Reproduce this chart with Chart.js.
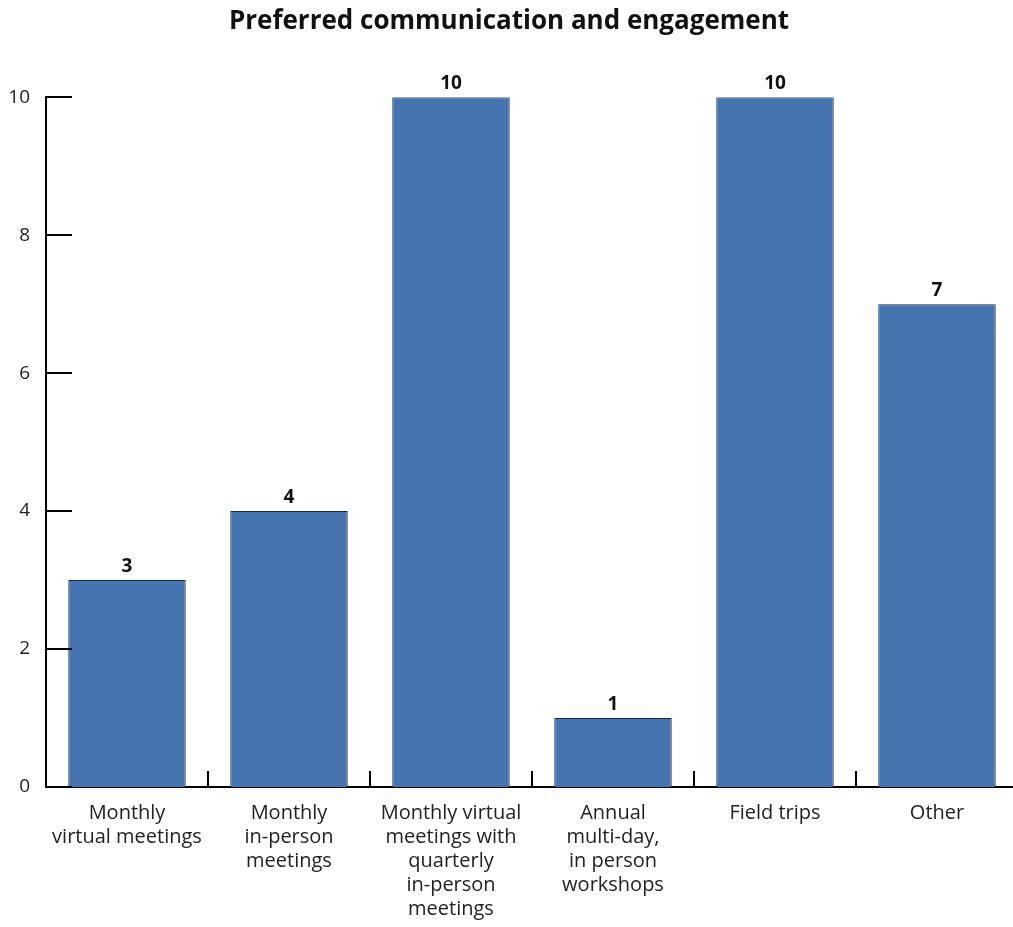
<!DOCTYPE html>
<html>
<head>
<meta charset="utf-8">
<script src="https://cdn.jsdelivr.net/npm/chart.js@4.4.1/dist/chart.umd.min.js"></script>
<style>
  html, body { margin: 0; padding: 0; background: #fff; overflow: hidden; }
  #chart { display: block; }
</style>
</head>
<body>
<canvas id="chart" width="1018" height="927"></canvas>
<script>
/* ===== data ===== */
const categories = [
  ["Monthly", "virtual meetings"],
  ["Monthly", "in-person", "meetings"],
  ["Monthly virtual", "meetings with", "quarterly", "in-person", "meetings"],
  ["Annual", "multi-day,", "in person", "workshops"],
  ["Field trips"],
  ["Other"]
];
const counts = [3, 4, 10, 1, 10, 7];
const yTicks = [0, 2, 4, 6, 8, 10];

const FONT = "'Open Sans', 'Noto Sans', sans-serif";

/* value labels above bars */
const valueLabels = {
  id: "valueLabels",
  afterDatasetsDraw(chart) {
    const ctx = chart.ctx;
    const meta = chart.getDatasetMeta(0);
    ctx.save();
    ctx.font = "bold 19px " + FONT;
    ctx.fillStyle = "#111";
    ctx.textAlign = "center";
    ctx.textBaseline = "bottom";
    meta.data.forEach((bar, i) => {
      ctx.fillText(String(counts[i]), bar.x, bar.y - 4);
    });
    ctx.restore();
  }
};

/* tick marks: inward on the y axis, upward on the x axis between categories */
const tickMarks = {
  id: "tickMarks",
  afterDatasetsDraw(chart) {
    const ctx = chart.ctx;
    const area = chart.chartArea;
    const x = chart.scales.x, y = chart.scales.y;
    ctx.save();
    ctx.strokeStyle = "#000";
    ctx.lineWidth = 2;
    yTicks.forEach(v => {
      const py = Math.round(y.getPixelForValue(v));
      ctx.beginPath();
      ctx.moveTo(area.left, py);
      ctx.lineTo(area.left + 26, py);
      ctx.stroke();
    });
    for (let i = 0; i < categories.length; i++) {
      const px = Math.round(x.getPixelForValue(i + 0.5));
      ctx.beginPath();
      ctx.moveTo(px, area.bottom);
      ctx.lineTo(px, area.bottom - 16);
      ctx.stroke();
    }
    ctx.restore();
  }
};

new Chart(document.getElementById("chart"), {
  type: "bar",
  data: {
    labels: categories,
    datasets: [{
      data: counts,
      backgroundColor: "#4674b1",
      borderColor: "#1b2a44",
      borderWidth: 1,
      barPercentage: 0.725,
      categoryPercentage: 1
    }]
  },
  options: {
    responsive: false,
    animation: false,
    devicePixelRatio: 1,
    layout: { padding: { left: 0, right: 0, top: 0, bottom: 0 } },
    plugins: {
      legend: { display: false },
      tooltip: { enabled: false },
      title: {
        display: true,
        text: "Preferred communication and engagement",
        color: "#111",
        font: { family: FONT, size: 26, weight: "bold" },
        padding: { top: 6, bottom: 60 }
      }
    },
    scales: {
      x: {
        grid: { display: false, drawTicks: false },
        border: { display: true, color: "#000", width: 2 },
        ticks: {
          color: "#222",
          font: { family: FONT, size: 20, lineHeight: 1.2 },
          padding: 14,
          maxRotation: 0,
          autoSkip: false
        },
        afterFit(s) { s.height = 140; }
      },
      y: {
        min: 0,
        max: 10,
        grid: { display: false, drawTicks: false },
        border: { display: true, color: "#000", width: 2 },
        ticks: {
          stepSize: 2,
          color: "#222",
          font: { family: FONT, size: 19 },
          padding: 16
        },
        afterFit(s) { s.width = 46; }
      }
    }
  },
  plugins: [valueLabels, tickMarks]
});
</script>
</body>
</html>
